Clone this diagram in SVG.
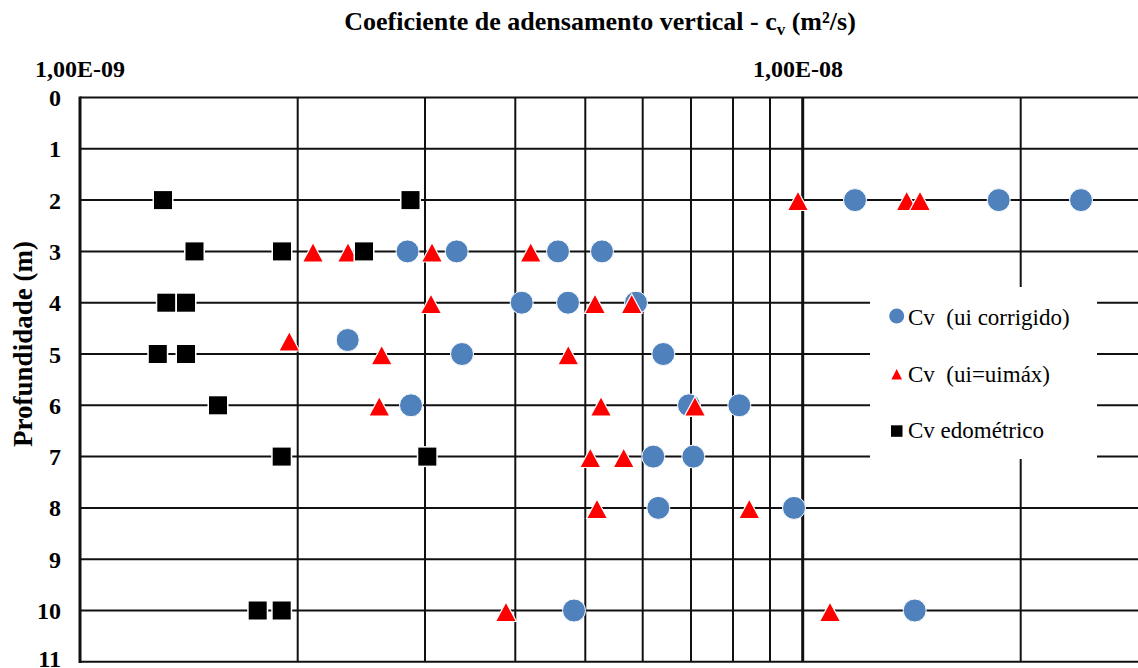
<svg xmlns="http://www.w3.org/2000/svg" width="1138" height="668" viewBox="0 0 1138 668">
<style>
.grid{stroke:#111;stroke-width:2;fill:none}
.axis{stroke:#111;stroke-width:3;fill:none}
text{font-family:'Liberation Serif','Times New Roman','DejaVu Serif',serif}
.lbl{font-weight:bold;fill:#000}
.tick{font-size:24px}
.ytick{font-size:24px;text-anchor:end}
.leg{font-size:23px;fill:#000;white-space:pre}
.c{fill:#4F81BD;stroke:#fff;stroke-width:1}
.t{fill:#FF0000;stroke:#fff;stroke-width:1.2}
.s{fill:#000;stroke:#fff;stroke-width:1.5}
</style>
<defs>
<circle id="cir" r="11.5"/>
<path id="tri" d="M0,-10 L10.5,9.5 L-10.5,9.5 Z"/>
<rect id="sq" x="-9.75" y="-9.75" width="19.5" height="19.5"/>
</defs>
<rect width="1138" height="668" fill="#fff"/>
<g id="title">
<text class="lbl" font-family="Liberation Serif, serif" x="600" y="30" font-size="26" text-anchor="middle">Coeficiente de adensamento vertical - c<tspan font-size="17" dy="5">v</tspan><tspan dy="-5"> (m²/s)</tspan></text>
</g>
<g id="gridlines">
<g class="grid">
<line x1="80" y1="97.5" x2="1138" y2="97.5"/>
<line x1="80" y1="148.8" x2="1138" y2="148.8"/>
<line x1="80" y1="200.1" x2="1138" y2="200.1"/>
<line x1="80" y1="251.4" x2="1138" y2="251.4"/>
<line x1="80" y1="302.7" x2="1138" y2="302.7"/>
<line x1="80" y1="354" x2="1138" y2="354"/>
<line x1="80" y1="405.3" x2="1138" y2="405.3"/>
<line x1="80" y1="456.6" x2="1138" y2="456.6"/>
<line x1="80" y1="507.9" x2="1138" y2="507.9"/>
<line x1="80" y1="559.2" x2="1138" y2="559.2"/>
<line x1="80" y1="610.5" x2="1138" y2="610.5"/>
<line x1="80" y1="661.8" x2="1138" y2="661.8"/>
<line x1="297.7" y1="97.5" x2="297.7" y2="661.8"/>
<line x1="425" y1="97.5" x2="425" y2="661.8"/>
<line x1="515.3" y1="97.5" x2="515.3" y2="661.8"/>
<line x1="585.3" y1="97.5" x2="585.3" y2="661.8"/>
<line x1="642.7" y1="97.5" x2="642.7" y2="661.8"/>
<line x1="691" y1="97.5" x2="691" y2="661.8"/>
<line x1="733" y1="97.5" x2="733" y2="661.8"/>
<line x1="770" y1="97.5" x2="770" y2="661.8"/>
<line x1="1020.7" y1="97.5" x2="1020.7" y2="661.8"/>
</g>
<g class="axis">
<line x1="80" y1="96.5" x2="80" y2="663"/>
<line x1="802.7" y1="97.5" x2="802.7" y2="661.8"/>
</g>
</g>
<g id="axis-labels">
<text class="lbl tick" x="80" y="77" text-anchor="middle">1,00E-09</text>
<text class="lbl tick" x="798" y="77" text-anchor="middle">1,00E-08</text>
<text class="lbl ytick" x="61" y="106">0</text>
<text class="lbl ytick" x="61" y="157.3">1</text>
<text class="lbl ytick" x="61" y="208.6">2</text>
<text class="lbl ytick" x="61" y="259.9">3</text>
<text class="lbl ytick" x="61" y="311.2">4</text>
<text class="lbl ytick" x="61" y="362.5">5</text>
<text class="lbl ytick" x="61" y="413.8">6</text>
<text class="lbl ytick" x="61" y="465.1">7</text>
<text class="lbl ytick" x="61" y="516.4">8</text>
<text class="lbl ytick" x="61" y="567.7">9</text>
<text class="lbl ytick" x="61" y="619">10</text>
<text class="lbl ytick" x="61" y="667">11</text>
<text class="lbl" font-size="27" text-anchor="middle" transform="translate(32,344) rotate(-90)">Profundidade (m)</text>
</g>
<g id="series-ui-corrigido" class="c">
<use href="#cir" x="855" y="200.1"/>
<use href="#cir" x="998.7" y="200.1"/>
<use href="#cir" x="1081" y="200.1"/>
<use href="#cir" x="407.5" y="251.4"/>
<use href="#cir" x="456.7" y="251.4"/>
<use href="#cir" x="558" y="251.4"/>
<use href="#cir" x="602" y="251.4"/>
<use href="#cir" x="521.7" y="302.7"/>
<use href="#cir" x="568" y="302.7"/>
<use href="#cir" x="636" y="302.7"/>
<use href="#cir" x="347.7" y="340"/>
<use href="#cir" x="462" y="354"/>
<use href="#cir" x="663.3" y="354"/>
<use href="#cir" x="411" y="405.3"/>
<use href="#cir" x="689" y="405.3"/>
<use href="#cir" x="739.3" y="405.3"/>
<use href="#cir" x="653.3" y="456.6"/>
<use href="#cir" x="693.3" y="456.6"/>
<use href="#cir" x="658.3" y="507.9"/>
<use href="#cir" x="794" y="507.9"/>
<use href="#cir" x="574" y="610.5"/>
<use href="#cir" x="914.7" y="610.5"/>
</g>
<g id="series-ui-uimax" class="t">
<use href="#tri" x="798" y="201"/>
<use href="#tri" x="906.7" y="201"/>
<use href="#tri" x="920" y="201"/>
<use href="#tri" x="313" y="252.5"/>
<use href="#tri" x="348" y="252.5"/>
<use href="#tri" x="432" y="252.5"/>
<use href="#tri" x="530.7" y="252.5"/>
<use href="#tri" x="431" y="304"/>
<use href="#tri" x="595" y="304"/>
<use href="#tri" x="631.7" y="304"/>
<use href="#tri" x="289.3" y="341.5"/>
<use href="#tri" x="381.7" y="355.3"/>
<use href="#tri" x="568.3" y="355.3"/>
<use href="#tri" x="379.3" y="406.5"/>
<use href="#tri" x="601" y="406.5"/>
<use href="#tri" x="695" y="406.5"/>
<use href="#tri" x="590.3" y="458"/>
<use href="#tri" x="623.7" y="458"/>
<use href="#tri" x="597" y="509"/>
<use href="#tri" x="749.3" y="509"/>
<use href="#tri" x="506" y="612"/>
<use href="#tri" x="830" y="612"/>
</g>
<g id="series-edometrico" class="s">
<use href="#sq" x="163" y="200.1"/>
<use href="#sq" x="410.5" y="200.1"/>
<use href="#sq" x="194.5" y="251.4"/>
<use href="#sq" x="282" y="251.4"/>
<use href="#sq" x="364" y="251.4"/>
<use href="#sq" x="166.3" y="302.7"/>
<use href="#sq" x="186" y="302.7"/>
<use href="#sq" x="157.8" y="354"/>
<use href="#sq" x="186" y="354"/>
<use href="#sq" x="218" y="405.3"/>
<use href="#sq" x="281.7" y="456.6"/>
<use href="#sq" x="427.3" y="456.6"/>
<use href="#sq" x="257.7" y="610.5"/>
<use href="#sq" x="281.7" y="610.5"/>
</g>
<g id="legend">
<rect x="870" y="287" width="227" height="172" fill="#fff"/>
<circle cx="896.7" cy="316" r="7.5" fill="#4F81BD"/>
<text class="leg" x="908" y="325">Cv  (ui corrigido)</text>
<path d="M896.7,369 L902,379.5 L891.4,379.5 Z" fill="#FF0000"/>
<text class="leg" x="908" y="381.7">Cv  (ui=uimáx)</text>
<rect x="891" y="425.3" width="11.5" height="11.5" fill="#000"/>
<text class="leg" x="908" y="437.7">Cv edométrico</text>
</g>
</svg>
